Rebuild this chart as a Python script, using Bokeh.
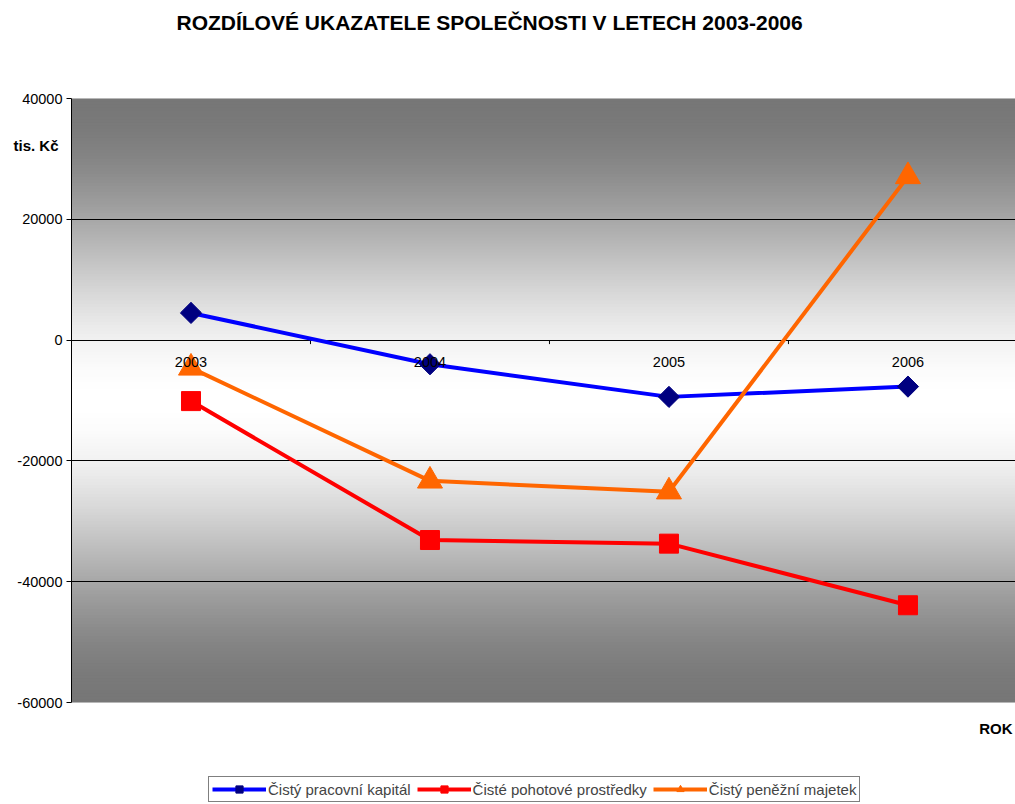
import numpy as np
from bokeh.plotting import figure
from bokeh.models import (Range1d, FactorRange, FixedTicker, BoxAnnotation, Label, LinearAxis,
                          Legend, LegendItem, ColumnDataSource, BasicTickFormatter)
from bokeh.transform import dodge
from bokeh.core.properties import value
from bokeh.embed import file_html
from bokeh.resources import INLINE

# ---- data ----
years = ["2003", "2004", "2005", "2006"]
cisty_pracovni_kapital = [4500, -4000, -9400, -7700]
ciste_pohotove_prostredky = [-10100, -33100, -33700, -43900]
cisty_penezni_majetek = [-4600, -23300, -25100, 27100]
series_names = ["Čistý pracovní kapitál", "Čisté pohotové prostředky", "Čistý peněžní majetek"]
y_ticks = [40000, 20000, 0, -20000, -40000, -60000]
grid_ticks = [20000, 0, -20000, -40000]
title_text = "ROZDÍLOVÉ UKAZATELE SPOLEČNOSTI V  LETECH 2003-2006"
y_unit = "tis. Kč"
x_title = "ROK"

FONT = "Liberation Sans"
W, H = 1015, 804
LEFT = 71
TOP_PX, BOT_PX = 98, 702          # pixel rows of 40000 and -60000
Y_MAX, Y_MIN = 40000, -60000
upp = (Y_MAX - Y_MIN) / (BOT_PX - TOP_PX)   # data units per pixel
UNIT_TICK = 32300                  # where the unit label sits on the value scale

p = figure(width=W, height=H, output_backend="svg", toolbar_location=None,
           title_location=None,
           x_range=FactorRange(factors=years, range_padding=-0.025, range_padding_units="absolute"),
           y_range=Range1d(Y_MIN - (H - BOT_PX) * upp, Y_MAX + TOP_PX * upp),
           x_axis_location=None,
           min_border_left=LEFT, min_border_right=0, min_border_top=0, min_border_bottom=0)
p.background_fill_color = "white"
p.border_fill_color = "white"
p.outline_line_color = None

# gradient background of the plot area (dark - white - dark)
step = 500
for lo in np.arange(Y_MIN, Y_MAX, step):
    mid = lo + step / 2
    t = abs(mid + 10000) / 50000
    s = 3 * t * t - 2 * t ** 3
    g = int(round(255 - 136 * s))
    p.add_layout(BoxAnnotation(bottom=float(lo), top=float(min(lo + step * 1.6, Y_MAX)),
                               fill_color=f"#{g:02x}{g:02x}{g:02x}",
                               fill_alpha=1, line_color=None, level="image"))
p.add_layout(BoxAnnotation(bottom=Y_MIN, top=Y_MAX, fill_color=None, fill_alpha=0,
                           line_color="#b0b0b0", line_width=1, level="image"))

p.xgrid.visible = False
p.ygrid.ticker = FixedTicker(ticks=grid_ticks)
p.ygrid.grid_line_color = "black"
p.ygrid.grid_line_width = 1

ax = p.yaxis[0]
ax.ticker = FixedTicker(ticks=y_ticks)
ax.bounds = (Y_MIN, Y_MAX)
ax.formatter = BasicTickFormatter(use_scientific=False)
ax.major_label_overrides = {t: str(t) for t in y_ticks}   # plain hyphen-minus as in the source
ax.major_tick_in = 0
ax.major_tick_out = 5
ax.minor_tick_line_color = None
ax.axis_line_color = "black"
ax.major_tick_line_color = "black"
ax.major_label_text_font = FONT
ax.major_label_text_font_size = "14.5px"
ax.major_label_text_color = "black"
ax.major_label_standoff = 4

# unit label as an outer axis carrying one labelled position
unit_axis = LinearAxis(ticker=FixedTicker(ticks=[UNIT_TICK]),
                       major_label_overrides={UNIT_TICK: y_unit},
                       axis_line_color=None, major_tick_line_color=None,
                       minor_tick_line_color=None, major_tick_in=0, major_tick_out=0,
                       major_label_standoff=-44, major_label_text_font=FONT,
                       major_label_text_font_size="15px", major_label_text_font_style="bold",
                       major_label_text_color="black")
p.add_layout(unit_axis, "left")

src = ColumnDataSource(dict(year=years, a=cisty_pracovni_kapital,
                            b=ciste_pohotove_prostredky, c=cisty_penezni_majetek))
bsrc = ColumnDataSource(dict(year=years[:3]))
xd = dodge("year", 0.025, range=p.x_range)

# category ticks at y=0 between categories
p.ray(x=dodge("year", 0.525, range=p.x_range), y=0, length=4, length_units="screen",
      angle=-np.pi / 2, source=bsrc, line_color="black", line_width=1)

l1 = p.line(x=xd, y="a", source=src, line_width=4, line_color="#0000FF")
s1 = p.scatter(x=xd, y="a", source=src, marker="square", angle=np.pi / 4, size=15,
               fill_color="#000080", line_color="#000080")
l2 = p.line(x=xd, y="b", source=src, line_width=4, line_color="#FF0000")
s2 = p.scatter(x=xd, y="b", source=src, marker="square", size=19,
               fill_color="#FF0000", line_color="#FF0000")
l3 = p.line(x=xd, y="c", source=src, line_width=4, line_color="#FF6600")
s3 = p.scatter(x=xd, y="c", source=src, marker="triangle", size=25,
               fill_color="#FF6600", line_color="#FF6600")

# category labels under the zero axis
p.text(x=xd, y=0, text="year", source=src, y_offset=22, text_align="center",
       text_baseline="middle", text_font=value(FONT), text_font_size="14.5px", text_color="black")

legend = Legend(items=[LegendItem(label=series_names[0], renderers=[l1, s1]),
                       LegendItem(label=series_names[1], renderers=[l2, s2]),
                       LegendItem(label=series_names[2], renderers=[l3, s3])],
                orientation="horizontal", location=(208 - LEFT, H - 802),
                glyph_width=54, glyph_height=18, label_height=18, label_standoff=2,
                spacing=6, padding=3, margin=0,
                label_text_font=FONT, label_text_font_size="15px",
                border_line_color="black", border_line_width=1,
                background_fill_color="white", background_fill_alpha=1)
p.add_layout(legend)

p.add_layout(Label(x=492 - LEFT, y=H - 22, x_units="screen", y_units="screen", text=title_text,
                   text_align="center", text_baseline="middle", text_font=FONT,
                   text_font_size="21px", text_font_style="bold", text_color="black"))
p.add_layout(Label(x=1012 - LEFT, y=H - 728, x_units="screen", y_units="screen", text=x_title,
                   text_align="right", text_baseline="middle", text_font=FONT,
                   text_font_size="15px", text_font_style="bold", text_color="black"))

open("out.html", "w").write(file_html(p, INLINE))
